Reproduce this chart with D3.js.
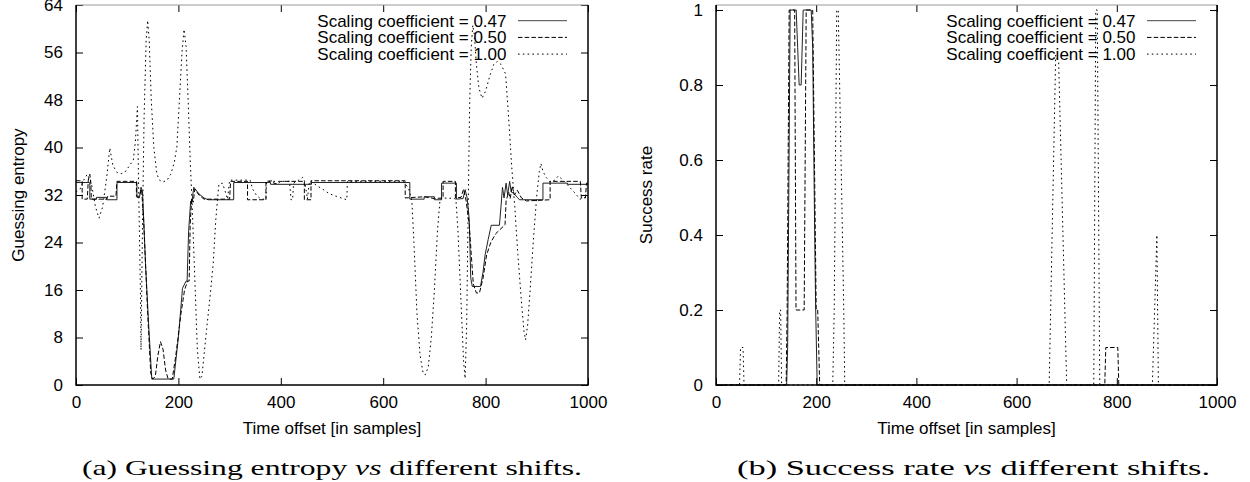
<!DOCTYPE html>
<html>
<head>
<meta charset="utf-8">
<script src="https://cdn.jsdelivr.net/npm/d3@7"></script>
<style>
  body { margin: 0; background: #fff; }
  svg { display: block; }
  .tick text { font-family: "Liberation Sans", Arial, sans-serif; font-size: 17px; fill: #000; }
  .lbl { font-family: "Liberation Sans", Arial, sans-serif; font-size: 17px; fill: #000; }
  .cap { font-family: "Liberation Serif", "Times New Roman", serif; font-size: 22px; fill: #000; }
</style>
</head>
<body>
<svg id="chart" width="1250" height="482"></svg>
<script>
// series labels (legend)
const seriesNames = ["Scaling coefficient = 0.47", "Scaling coefficient = 0.50", "Scaling coefficient = 1.00"];
const dashes = [null, "4.5,2.2", "1.6,3.2"];

// (a) guessing entropy, [offset, value]
const ge047 = [[0,34.1],[27,34.1],[27,31.3],[40,31.3],[40,31.6],[60,31.6],[60,31.2],[80,31.2],[80,34.1],[119,34.1],[119,31.6],[124,31.6],[127,33.3],[130,32.5],[136,20],[142,10],[148,1],[191,1],[200,8],[208,16.3],[215,17.5],[217,17.5],[220,26],[224,31],[226,30.5],[230,33.3],[240,32.2],[250,31.5],[258,31.2],[308,31.2],[308,34.1],[380,34.1],[380,33.8],[460,33.8],[460,34.1],[652,34.1],[652,31.3],[680,31.3],[680,31.7],[700,31.7],[700,31.2],[714,31.2],[714,34],[743,34],[743,31.3],[756,31.4],[760,32.9],[764,31.5],[768,28],[771,18],[774,16.6],[790,16.6],[795,19],[799,21.9],[805,24.5],[811,26.9],[827,26.9],[830,30],[833,33.3],[836,31.5],[840,34],[843,32],[847,34.3],[850,32.5],[855,32.3],[862,31.6],[866,31.2],[912,31.2],[912,34],[960,34],[960,33.8],[1000,33.8]];
const ge050 = [[0,34.4],[12,34.4],[12,31.3],[22,31.3],[24,34.5],[27,35.5],[29,34],[30,31.3],[60,31.3],[62,31.8],[78,31.8],[80,34.3],[118,34.3],[118,31.8],[124,31.8],[128,33],[132,28],[140,12],[146,2],[150,1],[155,1.5],[160,5],[165,7.3],[170,6],[175,2.5],[180,1],[188,1],[195,5],[205,12],[212,16],[218,17.5],[221,17.5],[223,27],[226,31.5],[229,30.8],[232,33],[240,32],[250,31.3],[300,31.3],[302,34.3],[335,34.3],[335,31.2],[371,31.2],[371,34.3],[385,34.4],[387,33.9],[395,34],[400,34.3],[446,34.3],[446,31.2],[459,31.2],[459,34.4],[643,34.4],[643,31.5],[660,31.6],[680,31.7],[700,31.4],[717,31.5],[717,34.3],[741,34.3],[741,31.5],[752,31.6],[757,33],[762,31],[768,27],[772,22],[776,17],[782,15.5],[788,15.5],[795,18],[802,21.9],[810,24],[820,25.5],[832,26.5],[838,27],[840,31],[845,32.5],[848,31.4],[852,33.5],[856,32],[862,32.8],[870,31.5],[880,31],[926,31.2],[926,34.3],[985,34.3],[987,31.5],[995,31.5],[997,34],[1000,34]];
const ge100 = [[0,32.5],[8,33],[15,34.5],[22,35.5],[30,34],[38,30],[45,28.1],[52,30],[60,35],[66,39.9],[72,37],[80,35.8],[89,35.6],[95,35.8],[105,37],[112,37.9],[116,41],[120,46.9],[122,35],[126,15],[127,5.9],[130,28],[133,45],[137,58],[140,61.4],[143,58],[147,48],[152,40],[158,35.5],[163,34.5],[170,34.2],[178,34.5],[185,35.5],[192,37.5],[197,40.1],[202,48],[207,56],[211,59.9],[215,57],[219,48],[223,38],[227,30],[232,18],[237,6],[242,1],[246,1.5],[250,5],[255,9.3],[262,15],[268,20.5],[273,27.8],[279,33.8],[286,34],[290,33],[296,31.3],[300,34.5],[340,34.5],[345,33],[352,32],[360,31.4],[371,31.2],[372,34.3],[417,34.3],[420,31.2],[423,31.2],[425,34],[435,34.5],[443,35],[447,34.2],[452,31.3],[456,34.3],[459,34.3],[470,33.6],[485,32.8],[495,32.2],[508,31.8],[525,31.3],[529,31.2],[530,34.3],[640,34.3],[650,33],[656,31],[660,24],[666,12],[672,5],[678,2],[682,1.7],[688,3],[694,8],[700,16],[706,26],[711,31.2],[716,31.6],[725,31.4],[735,31.5],[742,31.3],[746,26],[750,18],[754,10],[757,4],[760,1.1],[763,10],[766,30],[769,48],[772,57],[775,60.6],[778,59],[782,54],[787,50],[793,48.3],[800,49.5],[808,52],[816,54],[823,54.5],[830,54],[839,52.4],[845,45],[851,36.8],[857,30],[863,22],[870,14],[875,9],[878,7.6],[882,10],[887,16],[893,24],[900,32],[905,36],[908,37.3],[912,36],[918,35],[926,34.2],[935,34.5],[942,35.2],[950,34.6],[962,33.5],[975,32.3],[984,31.3],[992,31.5],[1000,32]];

// (b) success rate
const sr047 = [[0,0],[141,0],[143,0.1],[148,1],[160,1],[163,0.9],[166,0.8],[170,0.8],[174,1],[190,1],[193,0.9],[197,0.4],[199,0.2],[202,0],[1000,0]];
const sr050 = [[0,0],[140,0],[142,0.2],[146,1],[157,1],[159.7,0.2],[176,0.2],[180,1],[193,1],[200,0.2],[203,0.2],[205,0.1],[207,0],[776,0],[778,0.1],[802,0.1],[804,0],[1000,0]];
const sr100 = [[0,0],[47,0],[49,0.1],[54,0.1],[56,0],[125,0],[127,0.2],[129,0.2],[131,0],[233,0],[236,0.2],[241,1],[244,1],[251,0.5],[255,0.2],[257,0],[665,0],[678,0.88],[684,0.86],[700,0],[754,0],[758,1],[761,1],[766,0],[871,0],[880,0.4],[883,0],[1000,0]];

const xTicks = [0, 200, 400, 600, 800, 1000];
const geTicks = [0, 8, 16, 24, 32, 40, 48, 56, 64];
const srTicks = [0, 0.2, 0.4, 0.6, 0.8, 1];

const svg = d3.select("#chart");

function panel(o) {
  const x = d3.scaleLinear().domain([0, 1000]).range([o.left, o.right]);
  const y = d3.scaleLinear().domain(o.yDomain).range([385, 5]);
  const g = svg.append("g");

  // axes, ticks point inward like gnuplot
  g.append("g").attr("transform", "translate(0,385)")
    .call(d3.axisBottom(x).tickValues(xTicks).tickSize(-7).tickSizeOuter(0).tickPadding(11).tickFormat(d3.format("d")));
  g.append("g").attr("transform", "translate(0,5)")
    .call(d3.axisTop(x).tickValues(xTicks).tickSize(-7).tickSizeOuter(0).tickFormat(""));
  g.append("g").attr("transform", `translate(${o.left},0)`)
    .call(d3.axisLeft(y).tickValues(o.yTicks).tickSize(-7).tickSizeOuter(0).tickPadding(13).tickFormat(o.fmt));
  g.append("g").attr("transform", `translate(${o.right},0)`)
    .call(d3.axisRight(y).tickValues(o.yTicks).tickSize(-7).tickSizeOuter(0).tickFormat(""));
  g.selectAll(".domain").remove();
  g.selectAll(".tick line").attr("stroke", "#000").attr("stroke-width", 1);

  const line = d3.line().x(d => x(d[0])).y(d => y(d[1]));
  o.series.forEach((s, i) => {
    g.append("path").datum(s)
      .attr("fill", "none")
      .attr("stroke", i === 0 ? "#222" : "#000")
      .attr("stroke-width", 1)
      .attr("stroke-dasharray", dashes[i])
      .attr("d", line);
  });

  // frame
  g.append("line").attr("x1", o.left).attr("x2", o.right).attr("y1", 5).attr("y2", 5).attr("stroke", "#999").attr("stroke-width", 1);
  g.append("path").attr("fill", "none").attr("stroke", "#000").attr("stroke-width", 1.5)
    .attr("d", `M${o.left},5V385H${o.right}V5`);

  // legend
  seriesNames.forEach((name, i) => {
    const yy = 26.7 + i * 16.7;
    g.append("text").attr("class", "lbl").attr("x", o.right - 81.5).attr("y", yy)
      .attr("text-anchor", "end").text(name);
    g.append("line").attr("x1", o.right - 70).attr("x2", o.right - 21).attr("y1", yy - 6).attr("y2", yy - 6)
      .attr("stroke", i === 0 ? "#444" : "#000").attr("stroke-width", 1).attr("stroke-dasharray", dashes[i]);
  });

  g.append("text").attr("class", "lbl").attr("x", (o.left + o.right) / 2).attr("y", 434)
    .attr("text-anchor", "middle").text("Time offset [in samples]");
  g.append("text").attr("class", "lbl").attr("transform", `translate(${o.ytx},195) rotate(-90)`)
    .attr("text-anchor", "middle").text(o.ytitle);

  const cap = g.append("text").attr("class", "cap").attr("x", o.capX).attr("y", 475)
    .attr("textLength", o.capW).attr("lengthAdjust", "spacingAndGlyphs");
  cap.append("tspan").text(o.cap[0]);
  cap.append("tspan").attr("font-style", "italic").text("vs");
  cap.append("tspan").text(" different shifts.");
}

panel({
  left: 76, right: 588, yDomain: [0, 64], yTicks: geTicks, fmt: d3.format("d"),
  series: [ge047, ge050, ge100], ytitle: "Guessing entropy", ytx: 24,
  cap: ["(a) Guessing entropy "], capX: 82, capW: 500
});
panel({
  left: 716, right: 1217, yDomain: [0, 1 + 5 / 375], yTicks: srTicks,
  fmt: d => (d === 0 || d === 1) ? String(d) : d.toFixed(1),
  series: [sr047, sr050, sr100], ytitle: "Success rate", ytx: 652,
  cap: ["(b) Success rate "], capX: 737, capW: 473
});
</script>
</body>
</html>
